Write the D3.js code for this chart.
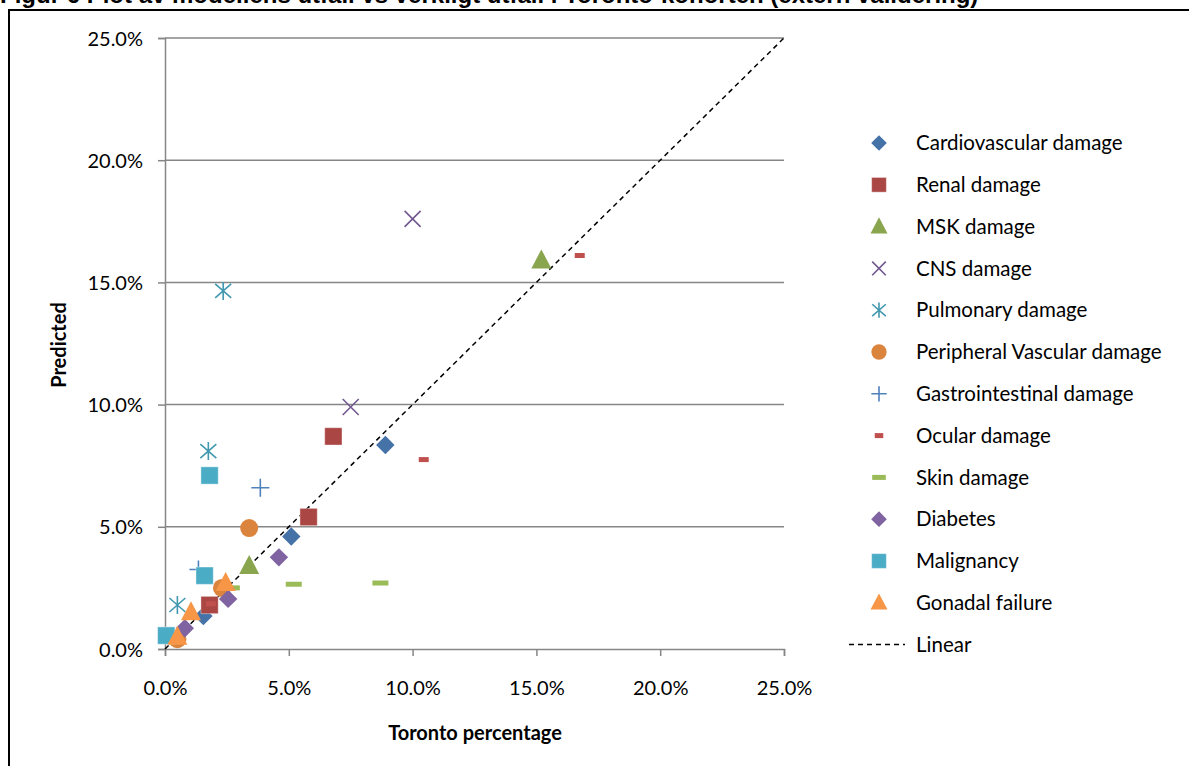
<!DOCTYPE html>
<html><head><meta charset="utf-8">
<script src="https://cdn.jsdelivr.net/npm/d3@7"></script>
<style>body{margin:0;background:#fff}svg{display:block}</style>
</head><body>
<svg id="c" width="1189" height="766"></svg>
<script>
const title = "Figur 6 Plot av modellens utfall vs verkligt utfall i Toronto-kohorten (extern validering)";
const xTicks = [0, 5, 10, 15, 20, 25];
const yTicks = [0, 5, 10, 15, 20, 25];
const seriesNames = ["Cardiovascular damage","Renal damage","MSK damage","CNS damage","Pulmonary damage","Peripheral Vascular damage","Gastrointestinal  damage","Ocular damage","Skin damage","Diabetes","Malignancy","Gonadal failure"];
const seriesColors = ["#4572A7","#AA4643","#89A54E","#71588F","#4198AF","#DB843D","#4F81BD","#C0504D","#9BBB59","#8064A2","#4BACC6","#F79646"];
const seriesShapes = ["diamond","square","triangle","x","asterisk","circle","plus","dashSmall","dash","diamond","square","triangle"];
// [Toronto %, Predicted %]
const cardiovascular = [[8.9,8.35],[5.1,4.6],[1.55,1.35]];
const renal = [[6.8,8.7],[5.8,5.4],[1.8,1.8]];
const msk = [[15.2,15.9],[3.4,3.4]];
const cns = [[10.0,17.6],[7.5,9.9]];
const pulmonary = [[2.35,14.65],[1.75,8.1],[0.5,1.8]];
const peripheral = [[3.4,4.95],[2.3,2.5],[0.5,0.4]];
const gastro = [[3.85,6.6],[1.35,3.25]];
const ocular = [[16.75,16.1],[10.45,7.75],[1.85,1.85]];
const skin = [[5.2,2.65],[8.7,2.7],[2.7,2.5]];
const diabetes = [[4.6,3.75],[2.55,2.05],[0.8,0.85]];
const malignancy = [[1.8,7.1],[1.6,3.0],[0.05,0.55]];
const gonadal = [[2.45,2.7],[1.05,1.5],[0.5,0.5]];
const seriesData = [cardiovascular,renal,msk,cns,pulmonary,peripheral,gastro,ocular,skin,diabetes,malignancy,gonadal];
const linearLine = [[0,0],[25,25]];

const svg = d3.select("#c");
const font = "Lato, 'Open Sans', sans-serif";

svg.append("text").attr("x", 0).attr("y", 3).attr("font-family","Arial, 'Liberation Sans', sans-serif")
  .attr("font-weight","bold").attr("font-size",24).attr("fill","#000").text(title);
svg.append("rect").attr("x",9).attr("y",10).attr("width",1200).attr("height",800)
  .attr("fill","none").attr("stroke","#000").attr("stroke-width",2);

const x = d3.scaleLinear().domain([0,25]).range([165,784]);
const y = d3.scaleLinear().domain([0,25]).range([649,38]);

svg.append("g").selectAll("line").data(yTicks.filter(d=>d>0)).join("line")
  .attr("x1",165).attr("x2",784).attr("y1",d=>y(d)).attr("y2",d=>y(d))
  .attr("stroke","#868686").attr("stroke-width",1.5);

const xAxis = svg.append("g").attr("transform","translate(0,649)")
  .call(d3.axisBottom(x).tickValues(xTicks).tickSize(7).tickPadding(25).tickFormat(d=>d.toFixed(1)+"%"));
const yAxis = svg.append("g").attr("transform","translate(165,0)")
  .call(d3.axisLeft(y).tickValues(yTicks).tickSize(7).tickPadding(15).tickFormat(d=>d.toFixed(1)+"%"));
[xAxis,yAxis].forEach(a=>{
  a.select(".domain").attr("stroke","#868686").attr("stroke-width",1.5);
  a.selectAll(".tick line").attr("stroke","#868686").attr("stroke-width",1.5);
  a.selectAll("text").attr("font-family",font).attr("font-size",20).attr("fill","#000");
});
yAxis.selectAll("text").attr("dy","0.35em");

svg.append("text").attr("x",475).attr("y",740).attr("text-anchor","middle")
  .attr("font-family",font).attr("font-weight","bold").attr("font-size",20).text("Toronto percentage");
svg.append("text").attr("transform","translate(66,345) rotate(-90)").attr("text-anchor","middle")
  .attr("font-family",font).attr("font-weight","bold").attr("font-size",20).text("Predicted");

svg.append("path").datum(linearLine)
  .attr("d", d3.line().x(d=>x(d[0])).y(d=>y(d[1])))
  .attr("stroke","#000").attr("stroke-width",1.5).attr("stroke-dasharray","5,4").attr("fill","none");

function drawMarker(g, shape, color, s){
  s = s||1;
  if(shape==="diamond") g.append("path").attr("d",d3.symbol(d3.symbolSquare, 170*s*s)()).attr("transform","rotate(45)").attr("fill",color);
  else if(shape==="square") g.append("path").attr("d",d3.symbol(d3.symbolSquare, 300*s*s)()).attr("fill",color).attr("stroke","#fff").attr("stroke-opacity",0.4);
  else if(shape==="triangle") g.append("path").attr("d",`M0,${-11*s}L${10*s},${8*s}L${-10*s},${8*s}Z`).attr("fill",color);
  else if(shape==="circle") g.append("circle").attr("r",9*s).attr("fill",color);
  else if(shape==="x") g.append("path").attr("d",`M${-8*s},${-8*s}L${8*s},${8*s}M${-8*s},${8*s}L${8*s},${-8*s}`).attr("stroke",color).attr("stroke-width",1.6);
  else if(shape==="asterisk") g.append("path").attr("d",`M${-8*s},${-7*s}L${8*s},${7*s}M${-8*s},${7*s}L${8*s},${-7*s}M0,${-9*s}L0,${9*s}`).attr("stroke",color).attr("stroke-width",1.6);
  else if(shape==="plus") g.append("path").attr("d",`M${-9*s},0L${9*s},0M0,${-9*s}L0,${9*s}`).attr("stroke",color).attr("stroke-width",1.6);
  else if(shape==="dashSmall") g.append("rect").attr("x",-5*s).attr("y",-2.5).attr("width",10*s).attr("height",5).attr("fill",color);
  else if(shape==="dash") g.append("rect").attr("x",-8*s).attr("y",-2.5).attr("width",16*s).attr("height",5).attr("fill",color);
}

seriesData.forEach((pts,i)=>{
  const g = svg.append("g");
  pts.forEach(p=>{
    const m = g.append("g").attr("transform",`translate(${x(p[0])},${y(p[1])})`);
    drawMarker(m, seriesShapes[i], seriesColors[i], 1);
  });
});

const lg = svg.append("g");
const rowY = i => 143 + i*41.8;
seriesNames.forEach((n,i)=>{
  const m = lg.append("g").attr("transform",`translate(879,${rowY(i)})`);
  drawMarker(m, seriesShapes[i], seriesColors[i], 0.85);
  lg.append("text").attr("x",916).attr("y",rowY(i)).attr("dy","0.35em")
    .attr("font-family",font).attr("font-size",20.5).attr("fill","#000").text(n);
});
lg.append("line").attr("x1",849).attr("x2",905).attr("y1",rowY(12)).attr("y2",rowY(12))
  .attr("stroke","#000").attr("stroke-width",1.5).attr("stroke-dasharray","5,4");
lg.append("text").attr("x",916).attr("y",rowY(12)).attr("dy","0.35em")
  .attr("font-family",font).attr("font-size",20.5).attr("fill","#000").text("Linear");
</script>
</body></html>
